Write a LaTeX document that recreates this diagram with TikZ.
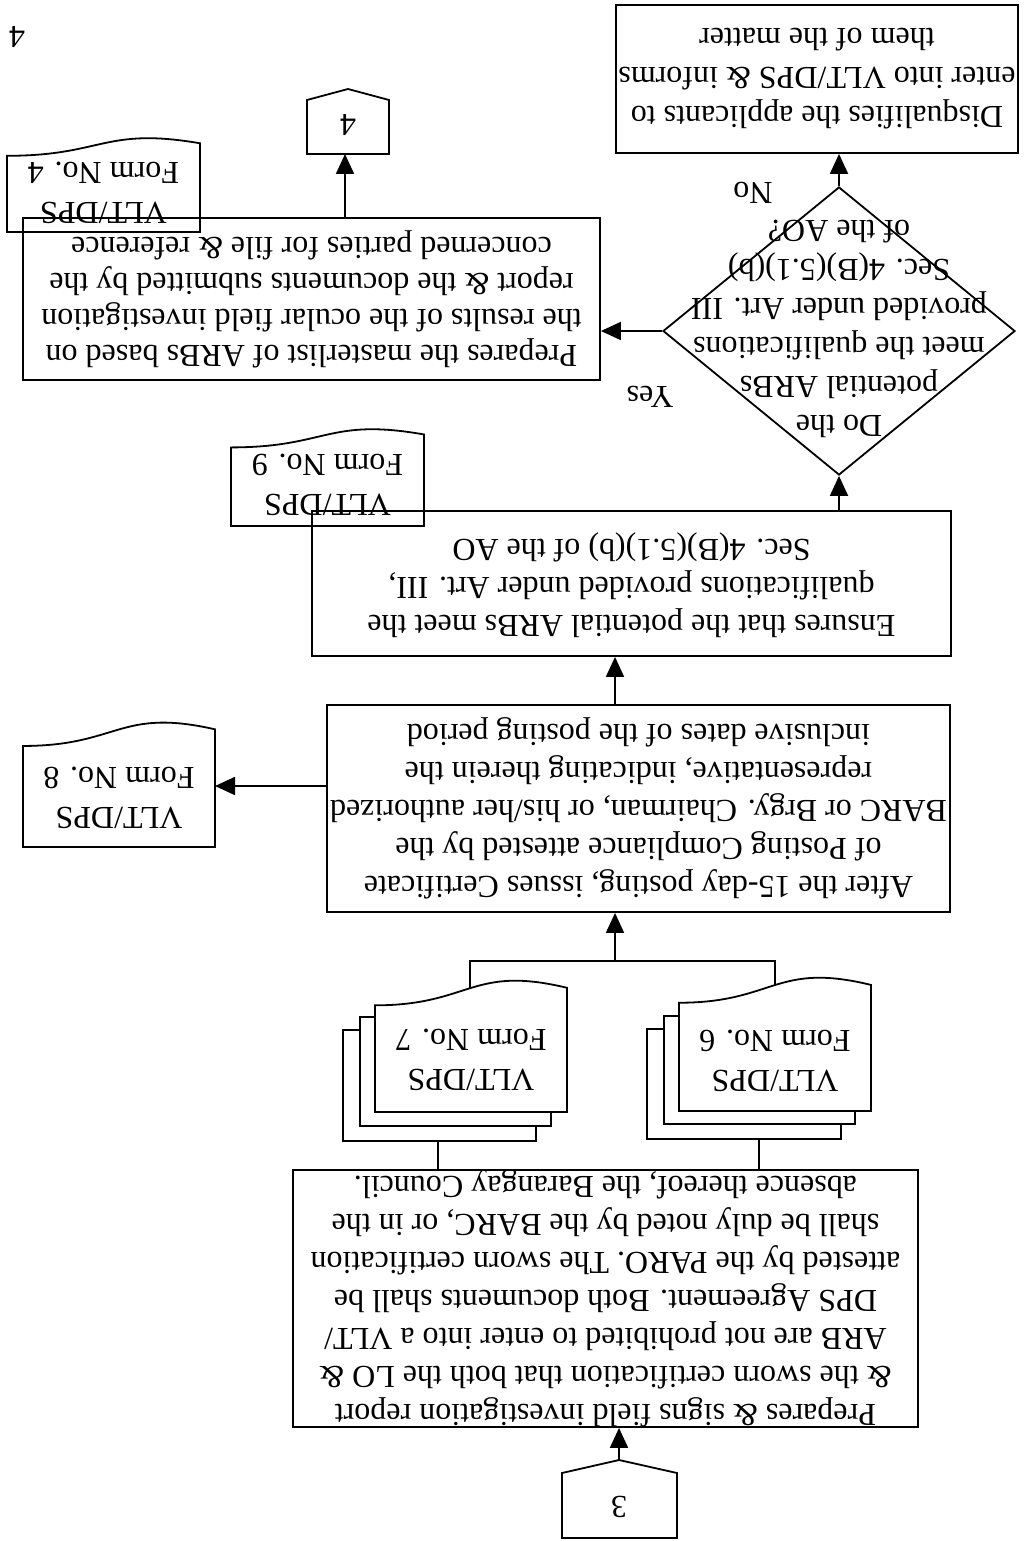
\documentclass[tikz,border=0pt]{standalone}
\usepackage{fontspec}
\setmainfont{Liberation Serif}
\usetikzlibrary{arrows.meta,shapes.geometric}
\newcommand\bodyfont{\fontsize{32}{38}\selectfont}
\newcommand\docfont{\fontsize{32}{40}\selectfont}
% document symbol: left, right, flat edge, height
\newcommand\docshape[5][]{%
  \draw[ln,#1] (#2,#4) -- (#2,{#4-0.802*#5})
    .. controls ({(#2+#3)/2},{#4-0.802*#5}) and ({(#2+#3)/2},{#4-1.1075*#5})
    .. (#3,{#4-0.934*#5}) -- (#3,#4) -- cycle;}
\begin{document}
\begin{tikzpicture}[x=1pt,y=-1pt,
  ln/.style={line width=1.8pt},
  box/.style={draw,line width=1.8pt,inner sep=0pt},
  txt/.style={rotate=180,inner sep=0pt,align=center,font=\bodyfont},
  doctxt/.style={rotate=180,inner sep=0pt,align=center,font=\docfont},
  arr/.style={line width=1.8pt,-{Triangle[length=20pt,width=18pt]}}]
\useasboundingbox (0,0) rectangle (1027,1541);

% off-page connector 3
\draw[ln] (562,1538) -- (562,1473) -- (619,1460) -- (677,1473) -- (677,1538) -- cycle;
\coordinate (c3tip) at (619,1460);
\node[txt] (c3) at (619,1507) {3};

% field investigation report
\node[box,minimum width=625pt,minimum height=257pt] (B1) at (605.5,1298.5) {};
\node[txt] (B1t) at (B1) {Prepares \& signs field investigation report\\
  \& the sworn certification that both the LO \&\\
  ARB are not prohibited to enter into a VLT/\\
  DPS Agreement. Both documents shall be\\
  attested by the PARO. The sworn certification\\
  shall be duly noted by the BARC, or in the\\
  absence thereof, the Barangay Council.};
\draw[arr] (c3tip) -- (c3tip |- B1.south);

% stacked forms 7
\draw[ln,fill=white] (343,1030) rectangle (536,1141);
\draw[ln,fill=white] (360,1017) rectangle (551,1126);
\docshape[fill=white]{375}{567}{1112}{133}
\node[doctxt] (F7) at (471,1060) {VLT/DPS\\Form No. 7};
\coordinate (s7) at (438,1141);
\draw[ln] (s7) -- (s7 |- B1.north);

% stacked forms 6
\draw[ln,fill=white] (647,1029) rectangle (841,1139);
\draw[ln,fill=white] (664,1016) rectangle (855,1124);
\docshape[fill=white]{679}{871}{1111}{135}
\node[doctxt] (F6) at (775,1061) {VLT/DPS\\Form No. 6};
\coordinate (s6) at (759,1139);
\draw[ln] (s6) -- (s6 |- B1.north);

% bracket joining both stacks
\coordinate (k7) at (470,988);
\coordinate (k6) at (775,985);
\coordinate (kL) at (470,961);
\coordinate (kR) at (775,961);
\coordinate (kM) at (615,961);
\draw[ln] (k7) -- (kL) -- (kR) -- (k6);

% certificate of posting compliance
\node[box,minimum width=623pt,minimum height=207pt] (B2) at (638.5,808.5) {};
\node[txt] (B2t) at (B2) {After the 15-day posting, issues Certificate\\
  of Posting Compliance attested by the\\
  BARC or Brgy. Chairman, or his/her authorized\\
  representative, indicating therein the\\
  inclusive dates of the posting period};
\draw[arr] (kM) -- (kM |- B2.south);

% form 8
\docshape{23}{215}{847}{126}
\node[doctxt] (F8) at (119,798) {VLT/DPS\\Form No. 8};
\coordinate (F8r) at (215,786);
\draw[arr] (F8r -| B2.west) -- (F8r);

% qualification check
\node[box,minimum width=639pt,minimum height=145pt] (B3) at (631.5,583.5) {};
\node[txt] (B3t) at (631.5,585) {Ensures that the potential ARBs meet the\\
  qualifications provided under Art. III,\\
  Sec. 4(B)(5.1)(b) of the AO};
\draw[arr] ([xshift=-23.5pt]B2.north) -- ([xshift=-23.5pt]B2.north |- B3.south);

% form 9
\docshape{231}{424}{526}{98}
\node[doctxt] (F9) at (327.5,485) {VLT/DPS\\Form No. 9};

% decision
\node[draw,diamond,line width=1.8pt,minimum width=352pt,minimum height=288pt,inner sep=0pt] (D) at (839,331) {};
\node[txt,font=\fontsize{32}{39}\selectfont] (Dt) at (839,329) {Do the\\potential ARBs\\meet the qualifications\\
  provided under Art. III\\Sec. 4(B)(5.1)(b)\\of the AO?};
\draw[arr] (D.south |- B3.north) -- (D.south);

% disqualification
\node[box,minimum width=402pt,minimum height=148pt] (Q) at (817,79) {};
\node[txt,font=\fontsize{32}{39}\selectfont] (Qt) at (Q) {Disqualifies the applicants to\\
  enter into VLT/DPS \& informs\\them of the matter};
\draw[arr] (D.north) -- (D.north |- Q.south);
\node[txt] (no) at (753,193) {No};

% masterlist
\node[box,minimum width=577pt,minimum height=162pt] (B4) at (311.5,299) {};
\node[txt,font=\fontsize{32}{36}\selectfont] (B4t) at (B4) {Prepares the masterlist of ARBs based on\\
  the results of the ocular field investigation\\
  report \& the documents submitted by the\\
  concerned parties for file \& reference};
\draw[arr] (D.west) -- (D.west -| B4.east);
\node[txt] (yes) at (650,397) {Yes};

% form 4
\docshape{7}{200}{232}{95}
\node[doctxt] (F4) at (103.5,193) {VLT/DPS\\Form No. 4};

% off-page connector 4
\draw[ln] (307,154) -- (307,100) -- (348,89) -- (389,100) -- (389,154) -- cycle;
\coordinate (c4bot) at (345,154);
\node[txt] (c4) at (348,125) {4};
\draw[arr] (c4bot |- B4.north) -- (c4bot);

% page number
\node[txt] (pg) at (17,37) {4};
\end{tikzpicture}
\end{document}
